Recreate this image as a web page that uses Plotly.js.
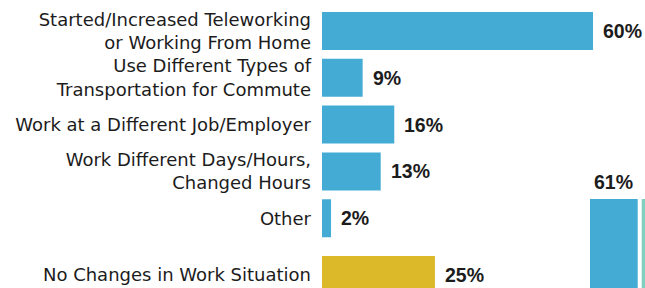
<!DOCTYPE html>
<html>
<head>
<meta charset="utf-8">
<script src="https://cdn.plot.ly/plotly-3.0.1.min.js"></script>
<style>html,body{margin:0;padding:0;background:#fff;}#chart{width:645px;height:288px;}</style>
</head>
<body>
<div id="chart"></div>
<script>
// Changes in work situation (share of respondents, %)
const changeCategories = [
  "Started/Increased Teleworking<br>or Working From Home",
  "Use Different Types of<br>Transportation for Commute",
  "Work at a Different Job/Employer",
  "Work Different Days/Hours,<br>Changed Hours",
  "Other"
];
const changeValues = [60, 9, 16, 13, 2];

const noChangeCategories = ["No Changes in Work Situation"];
const noChangeValues = [25];

// Right-hand column (partially visible in the reference)
const columnCategories = ["Any Change in Work Situation", "Other Group"];
const columnValues = [61, 61];
const columnLabels = ["61%", ""];

const BLUE = "#44acd4", GOLD = "#dbb928", TEAL = "#80d0c1", INK = "#1c1c1c";
const labelFont = {family: "DejaVu Sans", size: 18, color: INK};
const valueFont = {family: "Liberation Sans", size: 19.5, color: INK, weight: "bold"};

const traces = [
  {type: "bar", orientation: "h", x: changeValues, y: changeCategories,
   xaxis: "x", yaxis: "y", marker: {color: BLUE}, hoverinfo: "skip"},
  {type: "bar", orientation: "h", x: noChangeValues, y: noChangeCategories,
   xaxis: "x", yaxis: "y3", marker: {color: GOLD}, hoverinfo: "skip"},
  {type: "bar", x: columnCategories, y: columnValues, width: 0.923,
   xaxis: "x2", yaxis: "y2", marker: {color: [BLUE, TEAL]}, hoverinfo: "skip"}
];

const annotations = [];
changeValues.forEach((v, i) => annotations.push({
  x: v, y: changeCategories[i], xref: "x", yref: "y", text: "<b>" + v + "%</b>",
  showarrow: false, xanchor: "left", xshift: 8, font: valueFont
}));
noChangeValues.forEach((v, i) => annotations.push({
  x: v, y: noChangeCategories[i], xref: "x", yref: "y3", text: "<b>" + v + "%</b>",
  showarrow: false, xanchor: "left", xshift: 8, font: valueFont
}));
columnValues.forEach((v, i) => { if (columnLabels[i]) annotations.push({
  x: columnCategories[i], y: v, xref: "x2", yref: "y2", text: "<b>" + columnLabels[i] + "</b>",
  showarrow: false, yanchor: "bottom", yshift: 4, font: valueFont
}); });

const hiddenX = {showgrid: false, zeroline: false, showticklabels: false, showline: false, ticks: ""};

const layout = {
  width: 645, height: 288,
  margin: {l: 0, r: 0, t: 0, b: 0},
  paper_bgcolor: "#fff", plot_bgcolor: "#fff",
  showlegend: false, bargap: 0.188,
  font: labelFont,
  xaxis: Object.assign({domain: [322/645, 1], range: [0, 323/4.517], anchor: "y"}, hiddenX),
  yaxis: {domain: [1 - 241.6/288, 1 - 7.6/288], type: "category", range: [4.5, -0.5],
          anchor: "x", showgrid: false, zeroline: false, showline: false, ticks: "",
          ticklabelstandoff: 10, tickfont: labelFont},
  yaxis3: {domain: [0, (288 - 251.6)/288], type: "category", range: [-0.278, 0.5],
           anchor: "x", showgrid: false, zeroline: false, showline: false, ticks: "",
           ticklabelstandoff: 10, tickfont: labelFont},
  xaxis2: Object.assign({domain: [588/645, 1], type: "category", range: [-0.5, 0.6025], anchor: "y2"}, hiddenX),
  yaxis2: Object.assign({domain: [0, 1 - 160/288], range: [41.30, 69.63], anchor: "x2"}, hiddenX),
  annotations: annotations
};

Plotly.newPlot("chart", traces, layout, {staticPlot: true, displayModeBar: false});
</script>
</body>
</html>
